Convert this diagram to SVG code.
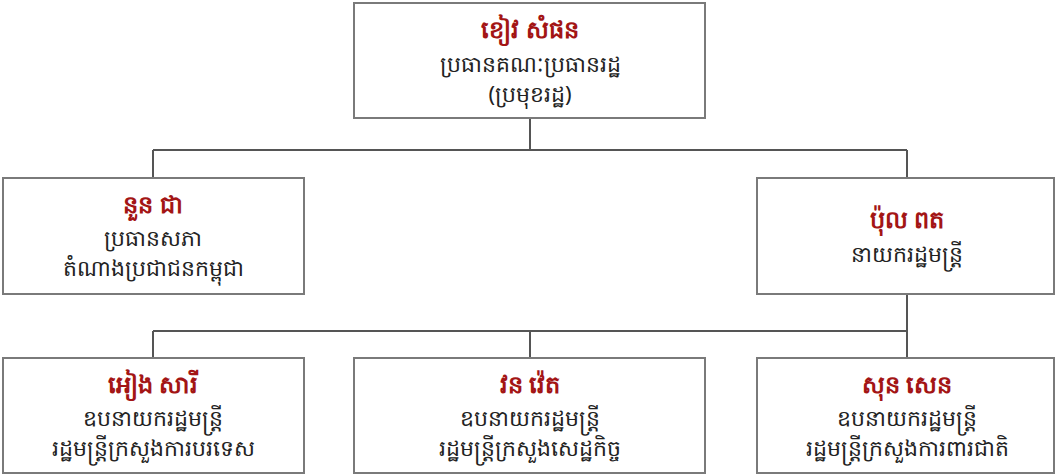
<svg xmlns="http://www.w3.org/2000/svg" width="1057" height="476" viewBox="0 0 1057 476">
<style>
.box{fill:#ffffff;stroke:#7a7a7a;stroke-width:2}
.con{fill:none;stroke:#555555;stroke-width:2}
text{font-family:"Noto Sans","DejaVu Sans",sans-serif;text-anchor:middle}
.name{fill:#a31515;font-size:24px;font-weight:bold}
.role{fill:#222222;font-size:22px}
</style>
<rect width="1057" height="476" fill="#ffffff"/>
<g id="connectors">
<path class="con" d="M530 118V150M153 150H907M153 150V178M907 150V178"/>
<path class="con" d="M907 294V331M153 331H907M153 331V358M530 331V358M907 331V358"/>
</g>
<g id="khieu-samphan">
<rect class="box" x="354" y="3" width="351" height="115"/>
<text class="name" x="530" y="38">ខៀវ  សំផន</text>
<text class="role" x="530" y="72">ប្រធានគណៈប្រធានរដ្ឋ</text>
<text class="role" x="530" y="102">(ប្រមុខរដ្ឋ)</text>
</g>
<g id="nuon-chea">
<rect class="box" x="3" y="178" width="301" height="116"/>
<text class="name" x="153" y="213">នួន  ជា</text>
<text class="role" x="153" y="246">ប្រធានសភា</text>
<text class="role" x="153" y="276">តំណាងប្រជាជនកម្ពុជា</text>
</g>
<g id="pol-pot">
<rect class="box" x="757" y="178" width="297" height="116"/>
<text class="name" x="907" y="228">ប៉ុល  ពត</text>
<text class="role" x="907" y="262">នាយករដ្ឋមន្ត្រី</text>
</g>
<g id="ieng-sary">
<rect class="box" x="3" y="358" width="301" height="115"/>
<text class="name" x="153" y="393">អៀង  សារី</text>
<text class="role" x="153" y="426">ឧបនាយករដ្ឋមន្ត្រី</text>
<text class="role" x="153" y="456">រដ្ឋមន្ត្រីក្រសួងការបរទេស</text>
</g>
<g id="vorn-vet">
<rect class="box" x="354" y="358" width="351" height="115"/>
<text class="name" x="530" y="393">វន  វ៉េត</text>
<text class="role" x="530" y="426">ឧបនាយករដ្ឋមន្ត្រី</text>
<text class="role" x="530" y="456">រដ្ឋមន្ត្រីក្រសួងសេដ្ឋកិច្ច</text>
</g>
<g id="son-sen">
<rect class="box" x="757" y="358" width="297" height="115"/>
<text class="name" x="907" y="393">សុន  សេន</text>
<text class="role" x="907" y="426">ឧបនាយករដ្ឋមន្ត្រី</text>
<text class="role" x="907" y="456">រដ្ឋមន្ត្រីក្រសួងការពារជាតិ</text>
</g>
</svg>
